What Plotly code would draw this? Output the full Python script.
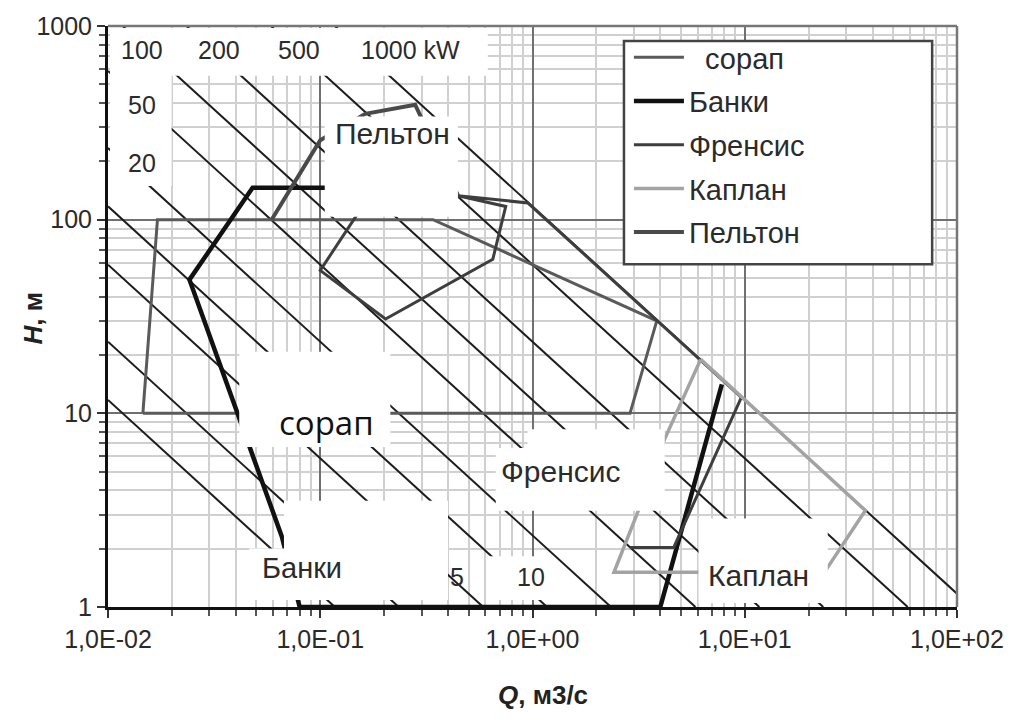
import plotly.graph_objects as go

# ---- data -------------------------------------------------------------
# iso-power lines, kW  (P = g * eta * Q * H)
G = 9.81
ETA = 0.87
POWER_KW = [1, 2, 5, 10, 20, 50, 100, 200, 500, 1000]

# turbine application envelopes: flow Q (m3/s) and head H (m)
corap_q = [0.0146, 0.0171, 0.34, 3.85, 2.88, 0.0146]
corap_h = [10, 100, 100, 30, 10, 10]

banki_q = [0.112, 0.048, 0.0242, 0.066, 0.08, 4.0, 7.8]
banki_h = [146, 146, 49, 2.3, 1.0, 1.0, 14.1]

francis_q = [2.88, 4.63, 9.64, 0.95, 0.446, 0.748, 0.65, 0.203, 0.1, 0.148, 0.2]
francis_h = [2.03, 2.03, 12.1, 122, 133, 117, 62.4, 30.7, 54.7, 105, 170]

kaplan_q = [6.2, 4.2, 3.1, 2.42, 5.93, 24.1, 37, 6.2]
kaplan_h = [19, 7.4, 3.0, 1.51, 1.51, 1.55, 3.15, 19]

pelton_q = [0.059, 0.1, 0.163, 0.28, 0.446]
pelton_h = [100, 257, 352, 392, 133]

x_tickvals = [0.01, 0.1, 1, 10, 100]
x_ticktext = ["1,0E-02", "1,0E-01", "1,0E+00", "1,0E+01", "1,0E+02"]
y_tickvals = [1, 10, 100, 1000]
y_ticktext = ["1", "10", "100", "1000"]

Q_MIN, Q_MAX = 0.01, 100.0
H_MIN, H_MAX = 1.0, 1000.0

# ---- page geometry (pixels) -------------------------------------------
W, HGT = 1016, 722
L, R, T, B = 108, 54, 22, 115
PW = W - L - R
PH = HGT - T - B


def px(x):
    return (x - L) / PW


def py(y):
    return (T + PH - y) / PH


# ---- iso-power lines ----------------------------------------------------
iso_q, iso_h = [], []
for p in POWER_KW:
    k = p / (G * ETA)               # Q*H product for this power
    q0 = max(Q_MIN, k / H_MAX)
    q1 = min(Q_MAX, k / H_MIN)
    iso_q += [q0, q1, None]
    iso_h += [k / q0, k / q1, None]

fig = go.Figure()
fig.add_trace(go.Scatter(x=iso_q, y=iso_h, mode="lines",
                         line=dict(color="#1c1c1c", width=2),
                         showlegend=False, hoverinfo="skip"))

series = [
    ("\u00a0\u00a0сорап", corap_q, corap_h, "#5a5a5a", 3),
    ("Банки", banki_q, banki_h, "#111111", 4.5),
    ("Френсис", francis_q, francis_h, "#3e3e3e", 3),
    ("Каплан", kaplan_q, kaplan_h, "#a3a3a3", 3.5),
    ("Пельтон", pelton_q, pelton_h, "#4a4a4a", 4),
]
for i, (name, q, h, col, w) in enumerate(series):
    fig.add_trace(go.Scatter(x=q, y=h, mode="lines", name=name,
                             legendgroup=f"g{i}",
                             line=dict(color=col, width=w)))

# ---- minor grid positions ---------------------------------------------
minor_x = [m * 10 ** e for e in range(-2, 2) for m in range(2, 10)]
minor_y = [m * 10 ** e for e in range(0, 3) for m in range(2, 10)]

axis_common = dict(
    type="log", showline=True, linecolor="#111111", linewidth=3,
    ticks="outside", ticklen=8, tickwidth=2, tickcolor="#333333",
    showgrid=True, gridcolor="#707070", gridwidth=2.2,
    tickfont=dict(family="Liberation Sans, Arial", size=25, color="#2a2a2a"),
    zeroline=False, tickmode="array",
)

fig.update_xaxes(range=[-2, 2], tickvals=x_tickvals, ticktext=x_ticktext,
                 minor=dict(tickvals=minor_x, ticks="outside", ticklen=6,
                            tickcolor="#555555", showgrid=True,
                            gridcolor="#d0d0d0", gridwidth=1.5),
                 **axis_common)
fig.update_yaxes(range=[0, 3], tickvals=y_tickvals, ticktext=y_ticktext,
                 minor=dict(tickvals=minor_y, ticks="outside", ticklen=6,
                            tickcolor="#555555", showgrid=True,
                            gridcolor="#d0d0d0", gridwidth=1.5),
                 **axis_common)

# ---- white label panels laid over the plot ------------------------------
panels = [
    (110, 24, 490, 72),     # power labels along the top
    (110, 24, 172, 183),    # power labels on the left
    (326, 113, 460, 214),   # Пельтон
    (240, 350, 392, 446),   # сорап
    (285, 500, 450, 600),   # Банки
    (250, 548, 285, 600),
    (490, 556, 556, 600),   # "10"
    (498, 447, 668, 510),   # Френсис
    (530, 428, 668, 447),
    (702, 518, 832, 603),   # Каплан
]
shapes = []
for x0, y0, x1, y1 in panels:
    shapes.append(dict(type="rect", xref="paper", yref="paper",
                       x0=px(x0), x1=px(x1), y0=py(y1), y1=py(y0),
                       fillcolor="white", line=dict(width=0), layer="above"))

# frame on top / right
shapes.append(dict(type="line", xref="paper", yref="paper", x0=0, x1=1,
                   y0=1, y1=1, line=dict(color="#777777", width=2.5),
                   layer="above"))
shapes.append(dict(type="line", xref="paper", yref="paper", x0=1, x1=1,
                   y0=0, y1=1, line=dict(color="#777777", width=2.5),
                   layer="above"))
# legend frame
shapes.append(dict(type="rect", xref="paper", yref="paper",
                   x0=px(627), x1=px(937), y0=py(262), y1=py(37),
                   fillcolor="white", line=dict(color="#444444", width=2.5),
                   layer="above"))

# ---- text labels -------------------------------------------------------
LBL = "Liberation Sans, Arial"


def label(text, x, y, size=30, family=LBL, color="#2b2b2b"):
    return dict(text=text, xref="paper", yref="paper", x=px(x), y=py(y),
                xanchor="center", yanchor="middle", showarrow=False,
                font=dict(family=family, size=size, color=color))


annotations = [
    label("100", 142, 46, 25), label("200", 220, 46, 25),
    label("500", 300, 46, 25), label("1000 kW", 412, 46, 25),
    label("50", 142, 102, 25), label("20", 142, 160, 25),
    label("5", 459, 577, 25), label("10", 533, 577, 25),
    label("Пельтон", 394, 130, 30),
    label("сорап", 328, 421, 33, family="Open Sans", color="#111111"),
    label("Банки", 303, 568, 29),
    label("Френсис", 564, 471, 30),
    label("Каплан", 762, 575, 30),
    dict(text="<b><i>Q</i>, м3/с</b>", xref="paper", yref="paper",
         x=px(546), y=py(696), xanchor="center", yanchor="middle",
         showarrow=False,
         font=dict(family=LBL, size=26, color="#222222")),
    dict(text="<b><i>H</i>, м</b>", xref="paper", yref="paper",
         x=px(33), y=py(316), xanchor="center", yanchor="middle",
         textangle=-90, showarrow=False,
         font=dict(family=LBL, size=26, color="#222222")),
]

fig.update_layout(
    width=W, height=HGT,
    margin=dict(l=L, r=R, t=T, b=B),
    paper_bgcolor="white", plot_bgcolor="white",
    shapes=shapes, annotations=annotations,
    legend=dict(x=px(632), y=py(28), xanchor="left", yanchor="top",
                bgcolor="rgba(0,0,0,0)", borderwidth=0,
                font=dict(family=LBL, size=29, color="#2b2b2b"),
                itemwidth=50, tracegroupgap=3),
)

fig.write_html("out.html")
